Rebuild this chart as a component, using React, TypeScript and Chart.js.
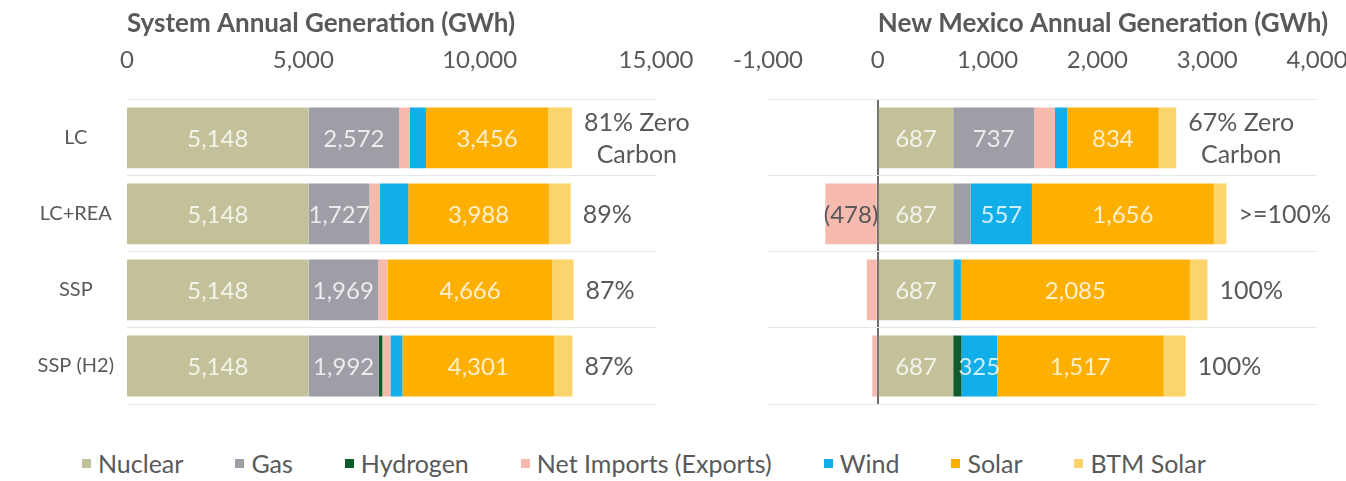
import React, { useEffect, useRef } from "react";
import { Chart, registerables } from "chart.js";

Chart.register(...registerables);

const FONT = "Lato, 'Open Sans', sans-serif";
const TEXT = "#595959";

const categories = ["LC", "LC+REA", "SSP", "SSP (H2)"];
const seriesNames = ["Nuclear", "Gas", "Hydrogen", "Net Imports (Exports)", "Wind", "Solar", "BTM Solar"];
const seriesColors = ["#c3c199", "#9e9ea6", "#0e5c2c", "#f6b9ae", "#12aeea", "#fdb002", "#fbd46b"];

// System annual generation (GWh)
const sysNuclear = [5148, 5148, 5148, 5148];
const sysGas = [2572, 1727, 1969, 1992];
const sysHydrogen = [0, 0, 0, 100];
const sysNetImports = [300, 300, 280, 230];
const sysWind = [460, 800, 0, 340];
const sysSolar = [3456, 3988, 4666, 4301];
const sysBtmSolar = [680, 620, 600, 520];
const sysShare = ["81% Zero\nCarbon", "89%", "87%", "87%"];
const sysTicks = [0, 5000, 10000, 15000];
const sysTitle = "System Annual Generation (GWh)";

// New Mexico annual generation (GWh)
const nmNuclear = [687, 687, 687, 687];
const nmGas = [737, 160, 0, 0];
const nmHydrogen = [0, 0, 0, 75];
const nmNetImports = [190, -478, -100, -50];
const nmWind = [110, 557, 70, 325];
const nmSolar = [834, 1656, 2085, 1517];
const nmBtmSolar = [160, 115, 160, 200];
const nmShare = ["67% Zero\nCarbon", ">=100%", "100%", "100%"];
const nmTicks = [-1000, 0, 1000, 2000, 3000, 4000];
const nmTitle = "New Mexico Annual Generation (GWh)";

const fmt = (v: number) => (v < 0 ? `(${Math.abs(v).toLocaleString("en-US")})` : v.toLocaleString("en-US"));

function overlayPlugin(title: string, shares: string[]) {
  return {
    id: "overlay",
    afterDatasetsDraw(chart: any) {
      const ctx = chart.ctx;
      const xs = chart.scales.x;
      const ys = chart.scales.y;
      ctx.save();
      ctx.font = `24px ${FONT}`;
      ctx.textAlign = "center";
      ctx.textBaseline = "middle";
      chart.data.datasets.forEach((ds: any, di: number) => {
        const meta = chart.getDatasetMeta(di);
        meta.data.forEach((el: any, i: number) => {
          const v = ds.data[i];
          const w = Math.abs(el.x - el.base);
          if (!v || w < 32) return;
          ctx.fillStyle = v < 0 ? TEXT : "rgba(255,255,255,0.8)";
          ctx.fillText(fmt(v), (el.x + el.base) / 2, el.y + 1);
        });
      });
      ctx.fillStyle = TEXT;
      ctx.font = `25px ${FONT}`;
      categories.forEach((_, i) => {
        let pos = 0;
        chart.data.datasets.forEach((ds: any) => {
          const v = ds.data[i];
          if (v > 0) pos += v;
        });
        const x0 = xs.getPixelForValue(pos) + 12;
        const y = ys.getPixelForValue(i);
        const lines = shares[i].split("\n");
        const mw = Math.max(...lines.map((l) => ctx.measureText(l).width));
        lines.forEach((l, k) => {
          ctx.fillText(l, x0 + mw / 2, y + 1 + (k - (lines.length - 1) / 2) * 32);
        });
      });
      ctx.restore();
    },
    afterDraw(chart: any) {
      const ctx = chart.ctx;
      const xs = chart.scales.x;
      ctx.save();
      ctx.font = `bold 26px ${FONT}`;
      ctx.fillStyle = TEXT;
      ctx.textAlign = "left";
      ctx.textBaseline = "middle";
      ctx.fillText(title, xs.getPixelForValue(0), 24);
      ctx.restore();
    },
  };
}

function buildConfig(p: {
  series: number[][];
  ticks: number[];
  shares: string[];
  title: string;
  left: boolean;
}) {
  const step = p.ticks[1] - p.ticks[0];
  return {
    type: "bar",
    data: {
      labels: categories,
      datasets: seriesNames.map((name, k) => ({
        label: name,
        data: p.series[k],
        backgroundColor: seriesColors[k],
        borderWidth: 0,
        barPercentage: 0.8,
        categoryPercentage: 1,
      })),
    },
    options: {
      indexAxis: "y",
      animation: false,
      responsive: false,
      maintainAspectRatio: false,
      layout: {
        padding: p.left
          ? { top: 21, left: 0, right: 44, bottom: 16 }
          : { top: 21, left: 68, right: 29, bottom: 16 },
      },
      plugins: {
        legend: { display: false },
        tooltip: { enabled: false },
        title: { display: false },
      },
      scales: {
        x: {
          position: "top",
          stacked: true,
          min: p.ticks[0],
          max: p.ticks[p.ticks.length - 1],
          z: 1,
          border: { display: false },
          grid: p.left
            ? { display: false, drawTicks: false }
            : {
                drawTicks: false,
                lineWidth: 2,
                color: (c: any) => (c.tick && c.tick.value === 0 ? "#6f6f6f" : "rgba(0,0,0,0)"),
              },
          ticks: {
            stepSize: step,
            padding: 25,
            color: TEXT,
            font: { family: FONT, size: 24 },
            callback: (v: any) => Number(v).toLocaleString("en-US"),
          },
          afterFit: (s: any) => {
            s.paddingLeft = 0;
            s.paddingRight = 0;
          },
        },
        y: {
          stacked: true,
          border: { display: false },
          grid: { offset: true, drawTicks: false, color: "#e6e6e6", lineWidth: 1 },
          ticks: {
            display: p.left,
            crossAlign: "center",
            padding: 13,
            color: TEXT,
            font: { family: FONT, size: 20 },
          },
          afterFit: (s: any) => {
            s.width = p.left ? 127 : 0;
            s.paddingTop = 0;
            s.paddingBottom = 0;
          },
        },
      },
    },
    plugins: [overlayPlugin(p.title, p.shares)],
  } as any;
}

export default function App() {
  const leftRef = useRef<HTMLCanvasElement>(null);
  const rightRef = useRef<HTMLCanvasElement>(null);

  useEffect(() => {
    const c1 = new Chart(
      leftRef.current!,
      buildConfig({
        series: [sysNuclear, sysGas, sysHydrogen, sysNetImports, sysWind, sysSolar, sysBtmSolar],
        ticks: sysTicks,
        shares: sysShare,
        title: sysTitle,
        left: true,
      })
    );
    const c2 = new Chart(
      rightRef.current!,
      buildConfig({
        series: [nmNuclear, nmGas, nmHydrogen, nmNetImports, nmWind, nmSolar, nmBtmSolar],
        ticks: nmTicks,
        shares: nmShare,
        title: nmTitle,
        left: false,
      })
    );
    return () => {
      c1.destroy();
      c2.destroy();
    };
  }, []);

  return (
    <div
      style={{
        position: "absolute",
        left: 0,
        top: 0,
        width: 1346,
        height: 481,
        background: "#ffffff",
        overflow: "hidden",
        fontFamily: FONT,
      }}
    >
      <canvas
        ref={leftRef}
        width={700}
        height={420}
        style={{ position: "absolute", left: 0, top: 0, width: 700, height: 420 }}
      />
      <canvas
        ref={rightRef}
        width={646}
        height={420}
        style={{ position: "absolute", left: 700, top: 0, width: 646, height: 420 }}
      />
      <div
        style={{
          position: "absolute",
          left: 82,
          top: 449,
          height: 28,
          display: "flex",
          alignItems: "center",
          gap: 52,
          color: TEXT,
          fontSize: 25,
          lineHeight: "28px",
          whiteSpace: "nowrap",
        }}
      >
        {seriesNames.map((name, k) => (
          <div key={name} style={{ display: "flex", alignItems: "center" }}>
            <span
              style={{
                display: "inline-block",
                width: 9,
                height: 9,
                background: seriesColors[k],
                marginRight: 7,
              }}
            />
            <span>{name}</span>
          </div>
        ))}
      </div>
    </div>
  );
}
